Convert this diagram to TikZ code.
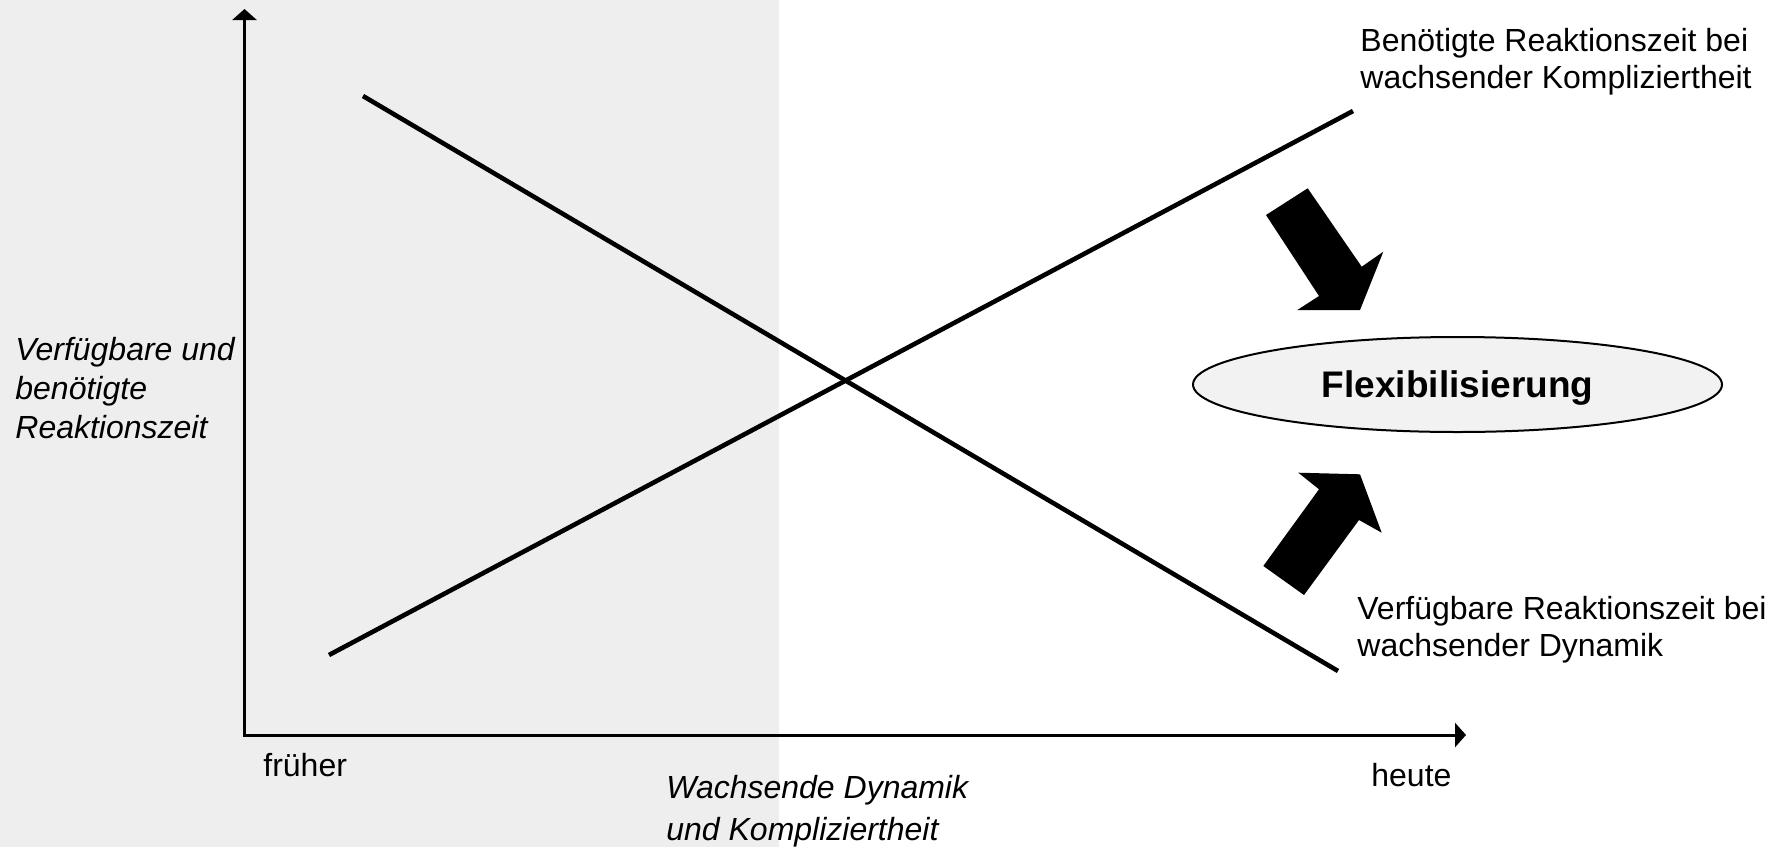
\documentclass[tikz,border=0pt]{standalone}
\usepackage{fontspec}
\setmainfont{Liberation Sans}
\usetikzlibrary{arrows.meta,shapes.geometric}
\definecolor{bgshade}{HTML}{EEEEEE}
\definecolor{ellfill}{HTML}{F2F2F2}
\begin{document}
\begin{tikzpicture}[x=0.5pt,y=-0.5pt,
  axis/.style={line width=1.5pt,{Triangle[length=5.5pt,width=12pt]}-{Triangle[length=5.5pt,width=12pt]}},
  trend/.style={line width=2.3pt},
  lbl/.style={inner sep=0pt,font=\fontsize{16}{18.5}\selectfont,align=left,anchor=base west},
  ilbl/.style={lbl,font=\fontsize{16}{19.5}\selectfont\itshape},
  blockarrow/.style={fill=black},
]
\useasboundingbox (0,0) rectangle (1778,847);
\fill[white] (0,0) rectangle (1778,847);
\fill[bgshade] (0,0) rectangle (778.5,847);

% axes
\coordinate (ytop) at (244.5,9);
\coordinate (orig) at (244.5,735);
\coordinate (xend) at (1466,735);
\draw[axis] (ytop) -- (orig) -- (xend);

% trend lines
\coordinate (fallA) at (363,96);
\coordinate (fallB) at (1338,671);
\coordinate (riseA) at (329,655);
\coordinate (riseB) at (1353,111);
\draw[trend] (fallA) -- (fallB);
\draw[trend] (riseA) -- (riseB);

% ellipse
\node[ellipse, draw, line width=1pt, fill=ellfill, minimum width=264.5pt, minimum height=47.5pt, inner sep=0pt,
      text depth=0pt, font=\bfseries\fontsize{18.5}{22}\selectfont] (flex) at (1457.5,384.5) {Flexibilisierung};

% block arrows
\fill[blockarrow] (1266,215) -- (1307.7,188.3) -- (1361.7,266.7) -- (1383.3,251.7) -- (1360,310)
   -- (1297.3,310) -- (1319,296) -- cycle;
\fill[blockarrow] (1263.3,566) -- (1304,595) -- (1359,520) -- (1381.7,532.7) -- (1360,474.3)
   -- (1298.3,472.7) -- (1319,489.3) -- cycle;

% labels (anchor = baseline of last line)
\node[lbl] (benoetigt) at (1360,88.3) {Benötigte Reaktionszeit bei\\wachsender Kompliziertheit};
\node[lbl] (verfuegbar) at (1357,656) {Verfügbare Reaktionszeit bei\\wachsender Dynamik};
\node[ilbl] (yaxlbl) at (15,438.5) {Verfügbare und\\benötigte\\Reaktionszeit};
\node[lbl] (frueher) at (263,776) {früher};
\node[lbl] (heute) at (1371,786) {heute};
\node[ilbl,font=\fontsize{16}{21}\selectfont\itshape] (xaxlbl) at (666,840.7) {Wachsende Dynamik\\und Kompliziertheit};
\end{tikzpicture}
\end{document}
